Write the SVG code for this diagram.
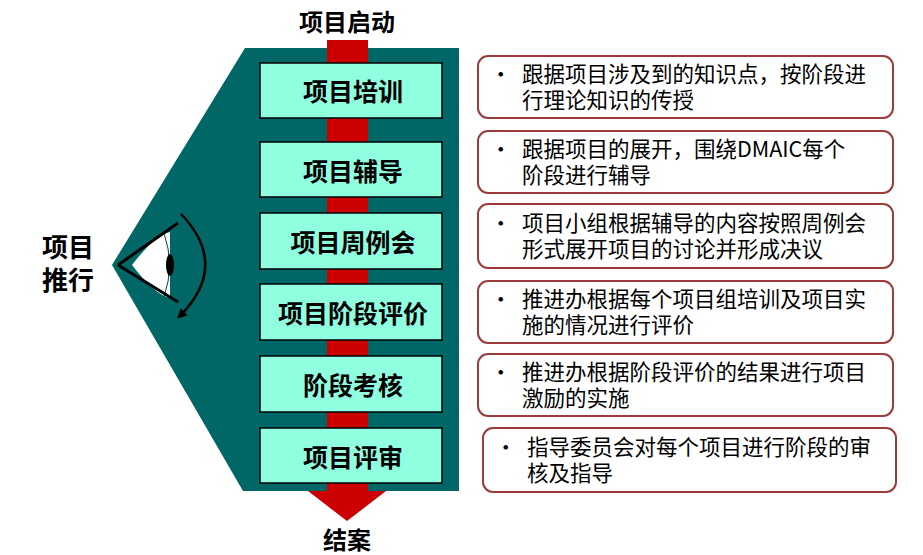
<svg xmlns="http://www.w3.org/2000/svg" width="923" height="555" viewBox="0 0 923 555">
<defs>
<style>
.t{font-family:"Noto Sans CJK SC","Liberation Sans",sans-serif;font-weight:bold;fill:#000}
.n{fill:#90ffe0;stroke:#000;stroke-width:1.5}
.d{fill:#fff;stroke:#9b3b3b;stroke-width:2}
.b{font-family:"Noto Sans CJK SC","Liberation Sans",sans-serif;font-size:21.5px;fill:#000}
</style>
<marker id="ah" markerWidth="10" markerHeight="10" refX="6" refY="5" orient="auto" markerUnits="userSpaceOnUse"><path d="M0,0 L10,5 L0,10 Z" fill="#000"/></marker>
</defs>
<polygon points="245,48 459,48 459,491 243,491 112,265" fill="#006666"/>
<g id="flow">
<rect x="327" y="40" width="41" height="452" fill="#cc0000"/>
<polygon points="308,491 386,491 347,521" fill="#cc0000"/>
</g>
<text class="t" x="347" y="31" font-size="24" text-anchor="middle">项目启动</text>
<text class="t" x="347" y="549" font-size="24" text-anchor="middle">结案</text>
<text class="t" x="68" y="257" font-size="26" text-anchor="middle">项目</text>
<text class="t" x="68" y="290" font-size="26" text-anchor="middle">推行</text>
<g id="eye">
<path d="M132,265 Q155,235 170,232 L170,298 Q155,295 132,265 Z" fill="#fff"/>
<path d="M164,233 Q175,265 164,297" fill="none" stroke="#004444" stroke-width="1"/>
<ellipse cx="170" cy="265" rx="4" ry="11" fill="#000"/>
<path d="M118,265 L178,223 M118,265 L178,302" stroke="#000" stroke-width="3" fill="none"/>
<path d="M181,214 Q230,265 180,316" fill="none" stroke="#000" stroke-width="2.5" marker-end="url(#ah)"/>
</g>
<g id="n1"><rect class="n" x="260" y="63" width="182" height="55"/><text class="t" x="353" y="101" font-size="25" text-anchor="middle">项目培训</text></g>
<g id="n2"><rect class="n" x="260" y="142" width="182" height="55"/><text class="t" x="353" y="181" font-size="25" text-anchor="middle">项目辅导</text></g>
<g id="n3"><rect class="n" x="260" y="213" width="182" height="56"/><text class="t" x="353" y="252" font-size="25" text-anchor="middle">项目周例会</text></g>
<g id="n4"><rect class="n" x="260" y="284" width="182" height="56"/><text class="t" x="353" y="323" font-size="25" text-anchor="middle">项目阶段评价</text></g>
<g id="n5"><rect class="n" x="260" y="356" width="182" height="56"/><text class="t" x="353" y="395" font-size="25" text-anchor="middle">阶段考核</text></g>
<g id="n6"><rect class="n" x="260" y="428" width="182" height="55"/><text class="t" x="353" y="467" font-size="25" text-anchor="middle">项目评审</text></g>
<g id="d1"><rect class="d" x="478" y="56" width="415" height="62" rx="10"/><text class="b" x="490" y="82">•</text><text class="b" x="522" y="82">跟据项目涉及到的知识点，按阶段进</text><text class="b" x="522" y="108">行理论知识的传授</text></g>
<g id="d2"><rect class="d" x="478" y="131" width="415" height="62" rx="10"/><text class="b" x="490" y="157">•</text><text class="b" x="522" y="157">跟据项目的展开，围绕DMAIC每个</text><text class="b" x="522" y="183">阶段进行辅导</text></g>
<g id="d3"><rect class="d" x="478" y="204" width="415" height="64" rx="10"/><text class="b" x="490" y="231">•</text><text class="b" x="522" y="231">项目小组根据辅导的内容按照周例会</text><text class="b" x="522" y="257">形式展开项目的讨论并形成决议</text></g>
<g id="d4"><rect class="d" x="478" y="281" width="415" height="62" rx="10"/><text class="b" x="490" y="307">•</text><text class="b" x="522" y="307">推进办根据每个项目组培训及项目实</text><text class="b" x="522" y="333">施的情况进行评价</text></g>
<g id="d5"><rect class="d" x="478" y="354" width="415" height="62" rx="10"/><text class="b" x="490" y="380">•</text><text class="b" x="522" y="380">推进办根据阶段评价的结果进行项目</text><text class="b" x="522" y="406">激励的实施</text></g>
<g id="d6"><rect class="d" x="483" y="428" width="413" height="64" rx="10"/><text class="b" x="495" y="455">•</text><text class="b" x="527" y="455">指导委员会对每个项目进行阶段的审</text><text class="b" x="527" y="481">核及指导</text></g>
</svg>
